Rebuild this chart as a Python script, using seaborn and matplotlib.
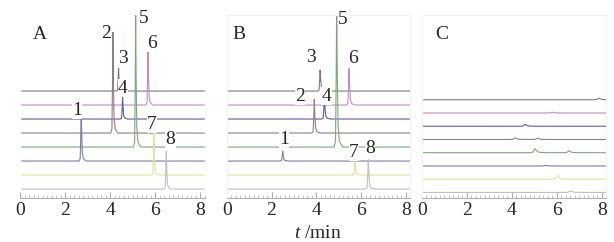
import numpy as np
import pandas as pd
import matplotlib
matplotlib.use("Agg")
import matplotlib.pyplot as plt
from matplotlib.ticker import MultipleLocator
import seaborn as sns

sns.set_theme(style="white")
plt.rcParams["font.family"] = "serif"
plt.rcParams["font.serif"] = ["Liberation Serif", "DejaVu Serif"]
plt.rcParams["mathtext.fontset"] = "custom"
plt.rcParams["mathtext.it"] = "Liberation Serif:italic"
plt.rcParams["mathtext.rm"] = "Liberation Serif"

# trace colours, top trace first
trace_colors = ["#7a7a7a", "#c08cc0", "#5c5ca4", "#977c86",
                "#7ca87c", "#7c7ca8", "#e2e29a", "#c0c0c0"]

# retention time / height (in trace spacings) of the one peak on each trace
a_rt = [4.38, 5.69, 4.56, 4.13, 5.14, 2.72, 5.95, 6.50]
a_height = [1.64, 4.0, 1.6, 7.2, 9.4, 3.9, 3.0, 2.7]
b_rt = [4.17, 5.46, 4.36, 3.91, 4.91, 2.50, 5.73, 6.32]
b_height = [1.5, 2.6, 1.64, 2.4, 10.5, 0.7, 1.0, 2.1]
# blank sample: only small bumps
c_rt = [[7.88], [5.8], [4.6], [4.15, 5.15], [5.04, 6.55], [5.5], [6.04], [6.62]]
c_height = [[0.12], [0.06], [0.14], [0.12, 0.1], [0.3, 0.16], [0.04], [0.3], [0.12]]

# peak numbers and where they are written (data coords)
a_labels = ["1", "2", "3", "4", "5", "6", "7", "8"]
a_label_x = [2.53, 3.83, 4.57, 4.57, 5.48, 5.88, 5.87, 6.68]
a_label_y = [5.64, 11.14, 9.29, 7.21, 12.2, 10.43, 4.64, 3.57]
b_labels = ["1", "2", "3", "4", "5", "6", "7", "8"]
b_label_x = [2.56, 3.27, 3.76, 4.46, 5.19, 5.64, 5.68, 6.40]
b_label_y = [3.57, 6.64, 9.43, 6.64, 12.14, 9.29, 2.64, 2.86]

# peak shape used to draw each peak
profile_dt = [-0.10, -0.045, -0.02, 0.0, 0.02, 0.05, 0.10, 0.22]
profile_frac = [0.0, 0.04, 0.45, 1.0, 0.55, 0.15, 0.04, 0.0]

T_START, T_END = 0.07, 8.2


def build_traces(rts, heights, width):
    rows = []
    n = len(rts)
    for i in range(n):
        offset = n - 1 - i
        pts = {T_START: 0.0, T_END: 0.0}
        for rt, h in zip(rts[i], heights[i]):
            for dt, fr in zip(profile_dt, profile_frac):
                t = rt + dt * width
                pts[t] = max(pts.get(t, 0.0), fr * h)
        for t in sorted(pts):
            rows.append({"trace": i, "t": t, "y": offset + pts[t]})
    return pd.DataFrame(rows)


df_a = build_traces([[r] for r in a_rt], [[h] for h in a_height], 1.0)
df_b = build_traces([[r] for r in b_rt], [[h] for h in b_height], 1.2)
df_c = build_traces(c_rt, c_height, 3.0)

fig = plt.figure(figsize=(6.14, 2.42), dpi=100)
bottom, height = 44 / 242, 183 / 242
ax_a = fig.add_axes([20 / 614, bottom, 184.5 / 614, height])
ax_b = fig.add_axes([226.7 / 614, bottom, 183.7 / 614, height])
ax_c = fig.add_axes([421.7 / 614, bottom, 184.5 / 614, height])

pal = dict(enumerate(trace_colors))
for ax, df, letter, ylim, frame in [
    (ax_a, df_a, "A", (-0.64, 12.43), False),
    (ax_b, df_b, "B", (-0.64, 12.43), True),
    (ax_c, df_c, "C", (-0.42, 13.4), True),
]:
    sns.lineplot(data=df, x="t", y="y", hue="trace", palette=pal, legend=False,
                 estimator=None, sort=False, linewidth=0.8, ax=ax)
    ax.set_xlim(0, 8.2)
    ax.set_ylim(*ylim)
    ax.set_xlabel("")
    ax.set_ylabel("")
    ax.set_yticks([])
    ax.xaxis.set_major_locator(MultipleLocator(2))
    ax.xaxis.set_minor_locator(MultipleLocator(0.2))
    ax.tick_params(axis="x", which="major", direction="in", length=4, width=0.6,
                   color="#999999", labelsize=14, pad=3, bottom=True)
    ax.tick_params(axis="x", which="minor", direction="in", length=2, width=0.5,
                   color="#aaaaaa", bottom=True)
    for side in ["left", "top", "right"]:
        ax.spines[side].set_visible(frame)
        ax.spines[side].set_color("#f2f2f2")
        ax.spines[side].set_linewidth(0.8)
    ax.spines["bottom"].set_color("#b0b0b0")
    ax.spines["bottom"].set_linewidth(0.8)
    lx = 0.89 if letter != "B" else 0.55
    ly = 11.07 if letter != "C" else 11.9
    ax.text(lx, ly, letter, fontsize=14, ha="center", va="center")

for ax, labels, xs, ys in [(ax_a, a_labels, a_label_x, a_label_y),
                           (ax_b, b_labels, b_label_x, b_label_y)]:
    for s, x, y in zip(labels, xs, ys):
        ax.text(x, y, s, fontsize=14, ha="center", va="center", zorder=5,
                bbox=dict(fc="white", ec="none", pad=0.3))

fig.text(318 / 614, 1 - 233 / 242, "$t$ /min", fontsize=14, ha="center", va="center")

fig.savefig("out.png", dpi=100)
